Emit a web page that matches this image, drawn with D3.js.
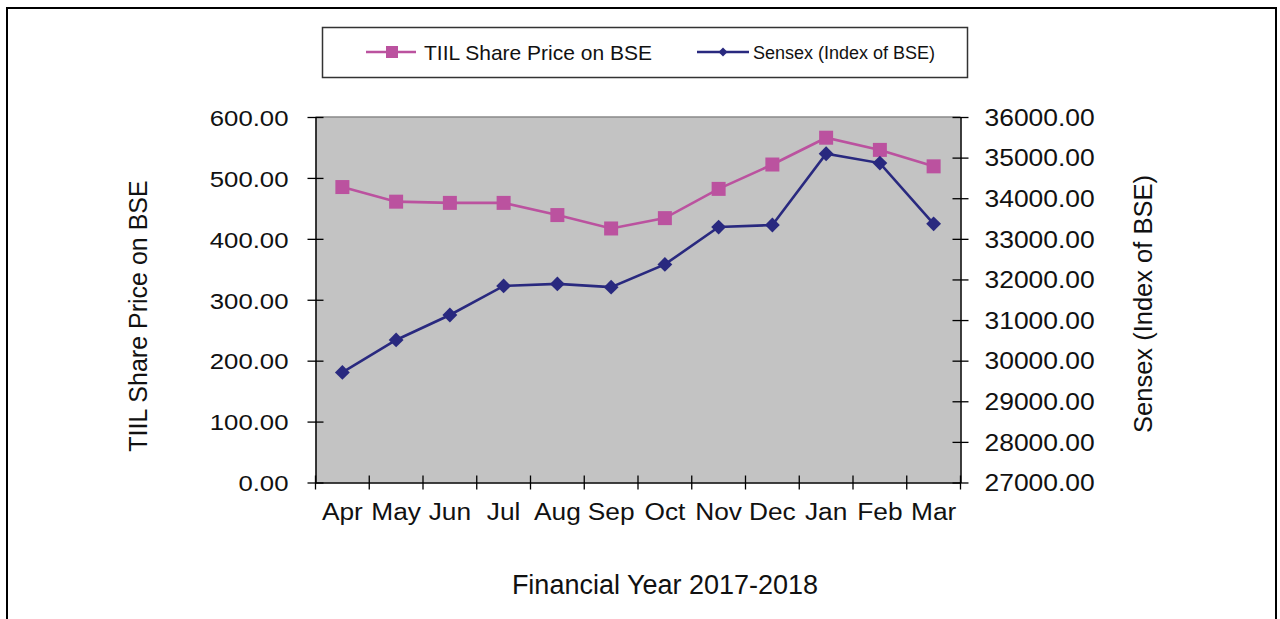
<!DOCTYPE html>
<html>
<head>
<meta charset="utf-8">
<script src="https://cdn.jsdelivr.net/npm/d3@7"></script>
<style>
  body { margin: 0; background: #fff; }
  text { font-family: "Liberation Sans", Arial, sans-serif; fill: #111; }
</style>
</head>
<body>
<div id="chart"></div>
<script>
// data
const months = ['Apr', 'May', 'Jun', 'Jul', 'Aug', 'Sep', 'Oct', 'Nov', 'Dec', 'Jan', 'Feb', 'Mar'];
const tiilPrice = [485, 461, 459, 459, 439, 417, 434, 482, 522, 566, 546, 519];
const sensex = [29710, 30510, 31125, 31840, 31890, 31810, 32370, 33290, 33340, 35095, 34865, 33370];
const leftTicks = [0, 100, 200, 300, 400, 500, 600];
const rightTicks = [27000, 28000, 29000, 30000, 31000, 32000, 33000, 34000, 35000, 36000];

const width = 1280, height = 619;
const plot = {left: 315.5, right: 960.5, top: 117, bottom: 482.5};

const colors = {
  tiil: '#bb529f',
  sensex: '#29297f',
  plotBg: '#c3c3c3'
};

const svg = d3.select('#chart').append('svg')
  .attr('width', width)
  .attr('height', height);

// outer frame
svg.append('rect')
  .attr('x', 7).attr('y', 8)
  .attr('width', 1269).attr('height', 700)
  .attr('fill', 'none')
  .attr('stroke', '#000')
  .attr('stroke-width', 2);

const x = d3.scaleBand()
  .domain(months)
  .range([plot.left, plot.right]);

const yLeft = d3.scaleLinear()
  .domain([0, 600])
  .range([plot.bottom, plot.top]);

const yRight = d3.scaleLinear()
  .domain([27000, 36000])
  .range([plot.bottom, plot.top]);

// plot area
svg.append('rect')
  .attr('x', plot.left).attr('y', plot.top)
  .attr('width', plot.right - plot.left)
  .attr('height', plot.bottom - plot.top)
  .attr('fill', colors.plotBg);

svg.append('line')
  .attr('x1', plot.left).attr('x2', plot.right)
  .attr('y1', plot.top).attr('y2', plot.top)
  .attr('stroke', '#8a8a8a')
  .attr('stroke-width', 1.5);

// stretch text a bit wider, keeping its anchor
function stretch(sel, k) {
  sel.each(function() {
    const t = d3.select(this);
    const tx = +t.attr('x') || 0;
    t.attr('x', tx / k).attr('transform', `scale(${k},1)`);
  });
}

function styleAxis(g) {
  g.select('.domain').attr('stroke', '#000').attr('stroke-width', 1.5);
  g.selectAll('.tick line').attr('stroke', '#000').attr('stroke-width', 1.3);
  g.selectAll('.tick text')
    .attr('fill', '#111')
    .style('font-family', '"Liberation Sans", Arial, sans-serif')
    .style('font-size', '23px');
}

// left axis
const gLeft = svg.append('g')
  .attr('transform', `translate(${plot.left},0)`)
  .call(d3.axisLeft(yLeft).tickValues(leftTicks).tickFormat(d3.format('.2f')).tickSizeOuter(0))
  .call(styleAxis);
gLeft.selectAll('.tick line').attr('x1', 8).attr('x2', -8);
gLeft.selectAll('.tick text').attr('x', -27).attr('dy', '0.36em');
stretch(gLeft.selectAll('.tick text'), 1.12);

// right axis
const gRight = svg.append('g')
  .attr('transform', `translate(${plot.right},0)`)
  .call(d3.axisRight(yRight).tickValues(rightTicks).tickFormat(d3.format('.2f')).tickSizeOuter(0))
  .call(styleAxis);
gRight.selectAll('.tick line').attr('x1', -8).attr('x2', 8);
gRight.selectAll('.tick text').attr('x', 24).attr('dy', '0.36em');
stretch(gRight.selectAll('.tick text'), 1.15);

// bottom axis, ticks sit between the months
const gBottom = svg.append('g')
  .attr('transform', `translate(0,${plot.bottom})`)
  .call(d3.axisBottom(x).tickSize(0).tickSizeOuter(0))
  .call(styleAxis);
gBottom.selectAll('.tick text')
  .attr('y', 38).attr('dy', 0)
  .style('font-size', '23.5px')
  .attr('transform', 'scale(1.12,1)');
gBottom.selectAll('.bound')
  .data(d3.range(months.length + 1))
  .join('line')
  .attr('class', 'bound')
  .attr('x1', i => plot.left + i * x.step())
  .attr('x2', i => plot.left + i * x.step())
  .attr('y1', -7).attr('y2', 7)
  .attr('stroke', '#000')
  .attr('stroke-width', 1.3);

// axis titles
svg.append('text')
  .attr('transform', 'translate(147,316) rotate(-90)')
  .attr('text-anchor', 'middle')
  .style('font-size', '25px')
  .text('TIIL Share Price on BSE');

svg.append('text')
  .attr('transform', 'translate(1152,304) rotate(-90)')
  .attr('text-anchor', 'middle')
  .style('font-size', '25.5px')
  .text('Sensex (Index of BSE)');

svg.append('text')
  .attr('x', 665).attr('y', 594)
  .attr('text-anchor', 'middle')
  .style('font-size', '27px')
  .text('Financial Year 2017-2018');

// series
const cx = d => x(d) + x.bandwidth() / 2;

const lineTiil = d3.line()
  .x((d, i) => cx(months[i]))
  .y(d => yLeft(d));

const lineSensex = d3.line()
  .x((d, i) => cx(months[i]))
  .y(d => yRight(d));

svg.append('path')
  .datum(tiilPrice)
  .attr('d', lineTiil)
  .attr('fill', 'none')
  .attr('stroke', colors.tiil)
  .attr('stroke-width', 2.6);

svg.append('path')
  .datum(sensex)
  .attr('d', lineSensex)
  .attr('fill', 'none')
  .attr('stroke', colors.sensex)
  .attr('stroke-width', 2.6);

const square = d3.symbol(d3.symbolSquare, 196);
const diamond = d3.symbol(d3.symbolSquare, 110);

svg.selectAll('.pt-tiil')
  .data(tiilPrice)
  .join('path')
  .attr('class', 'pt-tiil')
  .attr('d', square)
  .attr('transform', (d, i) => `translate(${cx(months[i])},${yLeft(d)})`)
  .attr('fill', colors.tiil);

svg.selectAll('.pt-sensex')
  .data(sensex)
  .join('path')
  .attr('class', 'pt-sensex')
  .attr('d', diamond)
  .attr('transform', (d, i) => `translate(${cx(months[i])},${yRight(d)}) rotate(45)`)
  .attr('fill', colors.sensex);

// legend
const legend = svg.append('g');
legend.append('rect')
  .attr('x', 322.5).attr('y', 27.5)
  .attr('width', 645).attr('height', 50)
  .attr('fill', '#fff')
  .attr('stroke', '#333')
  .attr('stroke-width', 1.5);

legend.append('line')
  .attr('x1', 366).attr('x2', 416).attr('y1', 52).attr('y2', 52)
  .attr('stroke', colors.tiil).attr('stroke-width', 2.6);
legend.append('path')
  .attr('d', d3.symbol(d3.symbolSquare, 144))
  .attr('transform', 'translate(392,52)')
  .attr('fill', colors.tiil);
legend.append('text')
  .attr('x', 424).attr('y', 59.5)
  .style('font-size', '21px')
  .text('TIIL Share Price on BSE');

legend.append('line')
  .attr('x1', 697).attr('x2', 749).attr('y1', 52).attr('y2', 52)
  .attr('stroke', colors.sensex).attr('stroke-width', 2.6);
legend.append('path')
  .attr('d', d3.symbol(d3.symbolSquare, 40))
  .attr('transform', 'translate(723,52) rotate(45)')
  .attr('fill', colors.sensex);
legend.append('text')
  .attr('x', 753).attr('y', 58.5)
  .style('font-size', '18px')
  .text('Sensex (Index of BSE)');
</script>
</body>
</html>
